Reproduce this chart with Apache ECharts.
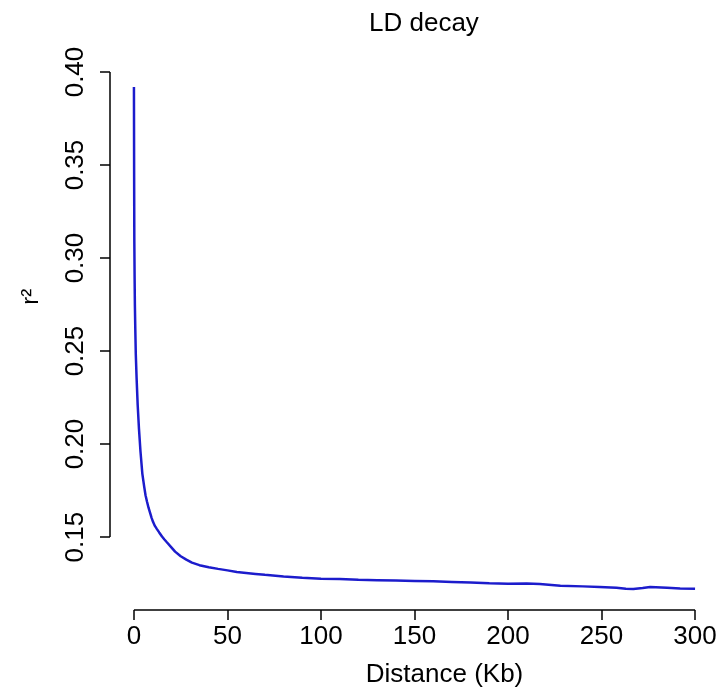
<!DOCTYPE html>
<html>
<head>
<meta charset="utf-8">
<title>LD decay</title>
<script src="https://cdn.jsdelivr.net/npm/echarts@6/dist/echarts.min.js"></script>
<style>
  html, body { margin: 0; padding: 0; background: #fff; }
  #chart { width: 721px; height: 693px; }
</style>
</head>
<body>
<div id="chart"></div>
<script>
  // distance (Kb) and mean r^2
  const distance = [0, 0.1, 0.2, 0.35, 0.5, 0.7, 1.0, 1.4, 2.0, 2.7, 3.5, 4.5, 5.5, 6.2, 7, 7.8, 8.6, 9.4, 10.2, 11.2,
    12.3, 13.5, 15, 16.3, 17.6, 20, 22, 25, 28, 31, 35, 40, 45, 50, 55, 60, 65, 70, 80, 90, 100, 110, 120, 130, 140,
    150, 160, 170, 180, 190, 200, 210, 217, 228, 240, 249, 258, 263, 267, 272, 276, 285, 292, 300]
  const r2 = [0.392, 0.345, 0.31, 0.29, 0.275, 0.263, 0.248, 0.236, 0.221, 0.208, 0.196, 0.184, 0.177, 0.1725, 0.169,
    0.1658, 0.1632, 0.1605, 0.1582, 0.156, 0.1543, 0.1525, 0.1503, 0.1487, 0.1472, 0.1445, 0.1422, 0.1397, 0.1379,
    0.1363, 0.1349, 0.1338, 0.1329, 0.1321, 0.1312, 0.1307, 0.1302, 0.1297, 0.1288, 0.1281, 0.1276, 0.1274, 0.127,
    0.1268, 0.1266, 0.1264, 0.1262, 0.1259, 0.1256, 0.1252, 0.1249, 0.125, 0.1248, 0.1238, 0.1235, 0.1232, 0.1228,
    0.1222, 0.1221, 0.1226, 0.1232, 0.1228, 0.1224, 0.1222]
  const xTicks = [0, 50, 100, 150, 200, 250, 300]
  const yTicks = [0.15, 0.2, 0.25, 0.3, 0.35, 0.4]

  const font = "'Liberation Sans', Arial, sans-serif"
  const chart = echarts.init(document.getElementById("chart"))

  const option = {
    animation: false,
    backgroundColor: "#fff",
    title: {
      text: "LD decay",
      left: 364,
      top: 6,
      textStyle: { fontFamily: font, fontSize: 26, fontWeight: "normal", color: "#000" }
    },
    grid: { left: 110, top: 65.5, width: 609, height: 545.5 },
    xAxis: {
      type: "value",
      min: -12.8,
      max: 312.8,
      name: "Distance (Kb)",
      nameLocation: "middle",
      nameGap: 52,
      nameTextStyle: { fontFamily: font, fontSize: 26, color: "#000", padding: [0, 0, 0, 60] },
      axisLine: { show: false, onZero: false },
      splitLine: { show: false },
      axisTick: { show: true, inside: false, length: 10, customValues: xTicks, lineStyle: { color: "#000", width: 1.5 } },
      axisLabel: { customValues: xTicks, fontFamily: font, fontSize: 26, color: "#000", margin: 14 }
    },
    yAxis: {
      type: "value",
      min: 0.1108,
      max: 0.4035,
      name: "r²",
      nameLocation: "middle",
      nameRotate: 90,
      nameGap: 67,
      nameMoveOverlap: false,
      nameTextStyle: { fontFamily: font, fontSize: 24, color: "#000", padding: [0, 0, 0, 82] },
      axisLine: { show: false, onZero: false },
      splitLine: { show: false },
      axisTick: { show: true, inside: false, length: 10, customValues: yTicks, lineStyle: { color: "#000", width: 1.5 } },
      axisLabel: {
        customValues: yTicks,
        rotate: 90,
        fontFamily: font,
        fontSize: 26,
        color: "#000",
        margin: 21,
        formatter: v => v.toFixed(2)
      }
    },
    series: [
      {
        type: "line",
        data: distance.map((d, i) => [d, r2[i]]),
        showSymbol: false,
        smooth: false,
        lineStyle: { color: "#1c1ccc", width: 2.5 }
      }
    ]
  }
  chart.setOption(option)

  // R draws the axis lines only between the first and last tick
  const x0 = chart.convertToPixel({ xAxisIndex: 0, yAxisIndex: 0 }, [xTicks[0], option.yAxis.min])
  const x1 = chart.convertToPixel({ xAxisIndex: 0, yAxisIndex: 0 }, [xTicks[xTicks.length - 1], option.yAxis.min])
  const y0 = chart.convertToPixel({ xAxisIndex: 0, yAxisIndex: 0 }, [option.xAxis.min, yTicks[0]])
  const y1 = chart.convertToPixel({ xAxisIndex: 0, yAxisIndex: 0 }, [option.xAxis.min, yTicks[yTicks.length - 1]])
  const axisStyle = { stroke: "#000", lineWidth: 1.5 }
  chart.setOption({
    graphic: [
      { type: "line", shape: { x1: x0[0], y1: x0[1], x2: x1[0], y2: x1[1] }, style: axisStyle },
      { type: "line", shape: { x1: y0[0], y1: y0[1], x2: y1[0], y2: y1[1] }, style: axisStyle }
    ]
  })
</script>
</body>
</html>
